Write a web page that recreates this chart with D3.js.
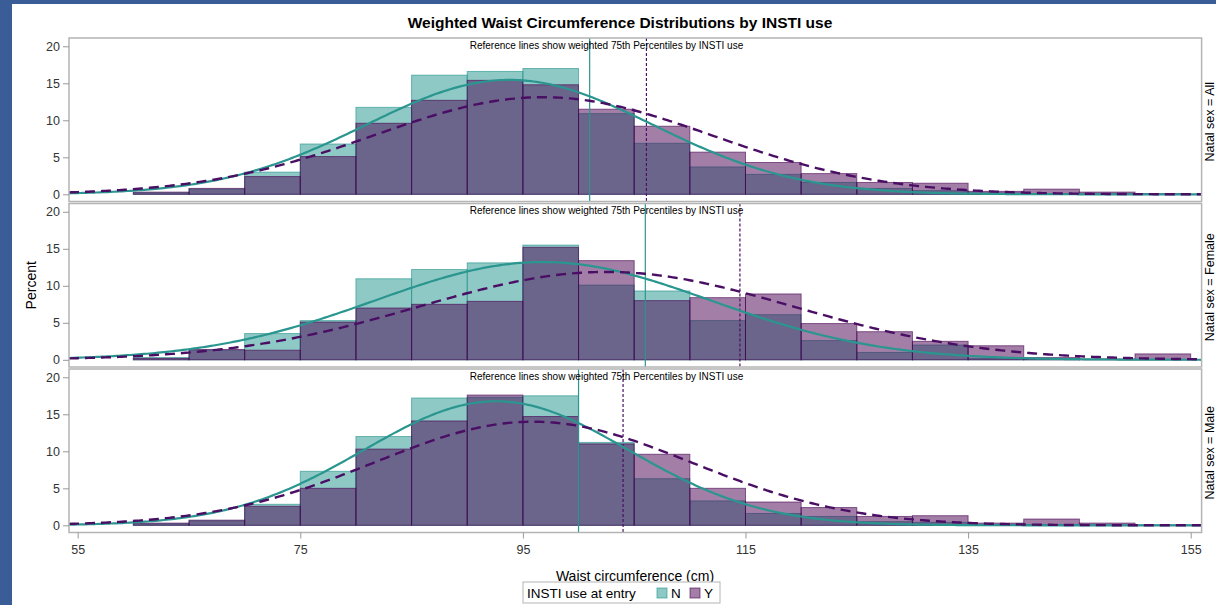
<!DOCTYPE html>
<html><head><meta charset="utf-8">
<script src="https://cdn.jsdelivr.net/npm/d3@7"></script>
<style>body{margin:0;background:#fff}svg{display:block}text{font-family:"Liberation Sans",Arial,sans-serif}</style>
</head><body>
<svg id="c" width="1216" height="605"></svg>
<script>
// ---- data ----
const binStarts = [60,65,70,75,80,85,90,95,100,105,110,115,120,125,130,135,140,145,150];
const binWidth = 5;
const panels = ["All","Female","Male"];
const allN    = [0.2,0.7,3.0,6.8,11.75,16.1,16.6,17.0,10.9,6.9,3.7,2.7,1.6,0.8,0.5,0.2,0.1,0.05,0];
const allY    = [0.3,0.8,2.4,5.1,9.6,12.7,15.4,14.8,11.5,9.2,5.7,4.3,2.8,1.6,1.5,0.4,0.7,0.3,0.1];
const femaleN = [0.3,1.3,3.55,5.3,10.95,12.2,13.1,15.5,10.1,9.3,5.3,6.1,2.6,1.0,2.0,0.2,0.1,0,0];
const femaleY = [0.2,1.4,1.3,5.1,7.0,7.5,7.9,15.2,13.4,8.0,8.4,8.9,4.9,3.8,2.5,1.9,0.3,0.1,0.8];
const maleN   = [0.2,0.6,2.84,7.3,12.0,17.2,17.3,17.5,11.2,6.3,3.3,1.6,1.2,0.5,0.4,0.1,0.1,0,0];
const maleY   = [0.3,0.7,2.57,5.0,10.3,14.1,17.6,14.7,11.0,9.6,5.0,3.15,2.4,1.2,1.3,0.3,0.85,0.3,0.05];
// fitted normal density parameters (mean, sd) per panel
const normMeanN = [93.8,96.8,92.6];
const normSdN   = [12.9,15.1,11.9];
const normMeanY = [96.8,102.5,95.9];
const normSdY   = [15.2,16.8,14.25];
// weighted 75th percentile reference lines
const p75N = [101.0,106.0,100.0];
const p75Y = [106.1,114.5,104.0];
const xTicks = [55,75,95,115,135,155];
const yTicks = [0,5,10,15,20];
const groups = ["N","Y"];

const seriesN = [allN,femaleN,maleN];
const seriesY = [allY,femaleY,maleY];

// ---- layout ----
const svg = d3.select("#c");
const colN = "rgb(31,147,139)", colY = "rgb(71,0,81)";
const lineN = "#2a968f", lineY = "#4a0f64";
svg.append("rect").attr("width",1216).attr("height",605).attr("fill","#3b5d97");
svg.append("rect").attr("x",12).attr("y",4).attr("width",1204).attr("height",601).attr("fill","#fff");

const L = 69, R = 1201.6, top0 = 38, pitch = 165.5, H = 163.5;
const x = d3.scaleLinear().domain([54.22,155.98]).range([L,R]);

svg.append("text").attr("x",620).attr("y",28).attr("text-anchor","middle")
  .attr("font-size",15.5).attr("font-weight","bold").attr("fill","#000")
  .text("Weighted Waist Circumference Distributions by INSTI use");

function normPct(v, mu, sd){ return 100*binWidth*Math.exp(-0.5*((v-mu)/sd)**2)/(sd*Math.sqrt(2*Math.PI)); }
const xs = d3.range(54.22,156.0,0.25);

panels.forEach((p,i)=>{
  const t = top0 + i*pitch;
  const y = d3.scaleLinear().domain([-0.97,21.12]).range([t+H,t]);
  const g = svg.append("g");
  const clipId = "clip"+i;
  svg.append("clipPath").attr("id",clipId).append("rect").attr("x",L).attr("y",t).attr("width",R-L).attr("height",H);
  const pg = g.append("g").attr("clip-path",`url(#${clipId})`);
  [[seriesN[i],colN],[seriesY[i],colY]].forEach(([vals,c])=>{
    pg.selectAll(null).data(vals.map((v,k)=>({s:binStarts[k],v}))).enter().append("rect")
      .filter(d=>d.v>0)
      .attr("x",d=>x(d.s)).attr("width",d=>x(d.s+binWidth)-x(d.s))
      .attr("y",d=>y(d.v)).attr("height",d=>y(0)-y(d.v))
      .attr("fill",c).attr("fill-opacity",0.5)
      .attr("stroke",c).attr("stroke-opacity",0.6).attr("stroke-width",1);
  });
  // reference lines
  pg.append("line").attr("x1",x(p75N[i])).attr("x2",x(p75N[i])).attr("y1",t).attr("y2",t+H)
    .attr("stroke",lineN).attr("stroke-width",1.2);
  pg.append("line").attr("x1",x(p75Y[i])).attr("x2",x(p75Y[i])).attr("y1",t).attr("y2",t+H)
    .attr("stroke",lineY).attr("stroke-width",1.2).attr("stroke-dasharray","3,2");
  // density curves
  const ln = d3.line().x(d=>x(d[0])).y(d=>y(d[1]));
  pg.append("path").attr("d",ln(xs.map(v=>[v,normPct(v,normMeanN[i],normSdN[i])])))
    .attr("fill","none").attr("stroke",lineN).attr("stroke-width",2.2);
  pg.append("path").attr("d",ln(xs.map(v=>[v,normPct(v,normMeanY[i],normSdY[i])])))
    .attr("fill","none").attr("stroke",lineY).attr("stroke-width",2.4).attr("stroke-dasharray","10,6");
  // subtitle
  g.append("text").attr("x",606.5).attr("y",t+10.5).attr("text-anchor","middle")
    .attr("font-size",10).attr("fill","#000").text("Reference lines show weighted 75th Percentiles by INSTI use");
  // border
  g.append("rect").attr("x",L).attr("y",t).attr("width",R-L).attr("height",H)
    .attr("fill","none").attr("stroke","#b4b4b4").attr("stroke-width",1.5);
  // y axis
  const ya = g.append("g").attr("transform",`translate(${L},0)`)
    .call(d3.axisLeft(y).tickValues(yTicks).tickSize(6).tickPadding(3));
  ya.select(".domain").remove();
  ya.selectAll("line").attr("stroke","#999");
  ya.selectAll("text").attr("font-size",12.5).attr("fill","#333").attr("font-family","Liberation Sans, Arial, sans-serif");
  // strip label
  g.append("text").attr("transform",`translate(1214,${t+H/2+2}) rotate(-90)`).attr("text-anchor","middle")
    .attr("font-size",12.5).attr("fill","#000").text("Natal sex = "+p);
});

const bottom = top0 + 2*pitch + H;
const xa = svg.append("g").attr("transform",`translate(0,${bottom})`)
  .call(d3.axisBottom(x).tickValues(xTicks).tickSize(6).tickPadding(7));
xa.select(".domain").remove();
xa.selectAll("line").attr("stroke","#999");
xa.selectAll("text").attr("font-size",12.5).attr("fill","#333").attr("font-family","Liberation Sans, Arial, sans-serif");

svg.append("text").attr("transform",`translate(36,${top0+(bottom-top0)/2}) rotate(-90)`).attr("text-anchor","middle")
  .attr("font-size",14).attr("fill","#000").text("Percent");
svg.append("text").attr("x",635).attr("y",581).attr("text-anchor","middle")
  .attr("font-size",14).attr("fill","#000").text("Waist circumference (cm)");

// legend
const lg = svg.append("g");
lg.append("rect").attr("x",523).attr("y",582).attr("width",197).attr("height",21).attr("fill","#fff").attr("stroke","#b4b4b4");
lg.append("text").attr("x",527).attr("y",597.5).attr("font-size",13.5).attr("fill","#000").text("INSTI use at entry");
const legX = d3.scaleOrdinal().domain(groups).range([657,690]);
groups.forEach((gname,k)=>{
  const c = k===0?colN:colY;
  lg.append("rect").attr("x",legX(gname)).attr("y",588).attr("width",10).attr("height",10)
    .attr("fill",c).attr("fill-opacity",0.5).attr("stroke",c).attr("stroke-opacity",0.6);
  lg.append("text").attr("x",legX(gname)+14).attr("y",597.5).attr("font-size",13.5).attr("fill","#000").text(gname);
});
</script>
</body></html>
